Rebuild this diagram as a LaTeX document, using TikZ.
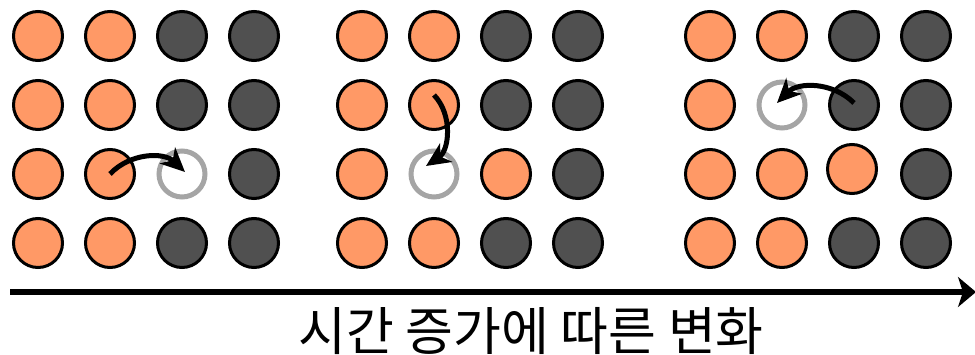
\documentclass[tikz,border=0pt]{standalone}
\usepackage{fontspec}
\newfontfamily\korfont{Noto Sans CJK KR}
\usetikzlibrary{arrows.meta}

\definecolor{atomorange}{RGB}{255,153,102}
\definecolor{atomdark}{RGB}{80,80,80}
\definecolor{holegray}{RGB}{165,165,165}

\tikzset{
  oatom/.style={circle, draw=black, line width=3pt, fill=atomorange, minimum size=49pt, inner sep=0pt},
  datom/.style={circle, draw=black, line width=3pt, fill=atomdark, minimum size=49pt, inner sep=0pt},
  hole/.style={circle, draw=holegray, line width=5pt, fill=white, minimum size=46pt, inner sep=0pt},
  jump/.style={line width=5pt, -{Stealth[length=24pt,width=22pt,inset=7pt]}}
}

\begin{document}
\begin{tikzpicture}[x=1pt,y=-1pt]
\useasboundingbox (0,0) rectangle (975,355);

% FIRST LATTICE
\node[oatom] (a11) at (38,36)  {}; \node[oatom] (a12) at (110,36)  {}; \node[datom] (a13) at (182,36)  {}; \node[datom] (a14) at (254,36)  {};
\node[oatom] (a21) at (38,105) {}; \node[oatom] (a22) at (110,105) {}; \node[datom] (a23) at (182,105) {}; \node[datom] (a24) at (254,105) {};
\node[oatom] (a31) at (38,174) {}; \node[oatom] (a32) at (110,174) {}; \node[hole]  (a33) at (182,174) {}; \node[datom] (a34) at (254,174) {};
\node[oatom] (a41) at (38,243) {}; \node[oatom] (a42) at (110,243) {}; \node[datom] (a43) at (182,243) {}; \node[datom] (a44) at (254,243) {};

% SECOND LATTICE
\node[oatom] (b11) at (362,36)  {}; \node[oatom] (b12) at (434,36)  {}; \node[datom] (b13) at (506,36)  {}; \node[datom] (b14) at (578,36)  {};
\node[oatom] (b21) at (362,105) {}; \node[oatom] (b22) at (434,105) {}; \node[datom] (b23) at (506,105) {}; \node[datom] (b24) at (578,105) {};
\node[oatom] (b31) at (362,174) {}; \node[hole]  (b32) at (434,174) {}; \node[oatom] (b33) at (506,174) {}; \node[datom] (b34) at (578,174) {};
\node[oatom] (b41) at (362,243) {}; \node[oatom] (b42) at (434,243) {}; \node[datom] (b43) at (506,243) {}; \node[datom] (b44) at (578,243) {};

% THIRD LATTICE
\node[oatom] (c11) at (710,36)  {}; \node[oatom] (c12) at (782,36)  {}; \node[datom] (c13) at (854,36)  {}; \node[datom] (c14) at (926,36)  {};
\node[oatom] (c21) at (710,105) {}; \node[hole]  (c22) at (782,105) {}; \node[datom] (c23) at (854,105) {}; \node[datom] (c24) at (926,105) {};
\node[oatom] (c31) at (710,174) {}; \node[oatom] (c32) at (782,174) {}; \node[oatom] (c33) at (852,169) {}; \node[datom] (c34) at (926,174) {};
\node[oatom] (c41) at (710,243) {}; \node[oatom] (c42) at (782,243) {}; \node[datom] (c43) at (854,243) {}; \node[datom] (c44) at (926,243) {};

% JUMPS
\draw[jump] (a32.center) to[bend left=45] ([xshift=3pt,yshift=2pt]a33.center);
\draw[jump] ([yshift=10pt]b22.center) to[bend left=50] ([xshift=-8pt,yshift=8pt]b32.center);
\draw[jump] ([yshift=2pt]c23.center) to[bend right=45] ([xshift=-5pt,yshift=2pt]c22.center);

% TIME AXIS
\coordinate (t0) at (10,292);
\coordinate (t1) at (976,292);
\draw[line width=6.5pt, -{Stealth[length=18pt,width=30pt,inset=5pt]}] (t0) -- (t1);
\node (tlabel) at (531,331) {\korfont\fontsize{52}{60}\selectfont 시간 증가에 따른 변화};

\end{tikzpicture}
\end{document}
